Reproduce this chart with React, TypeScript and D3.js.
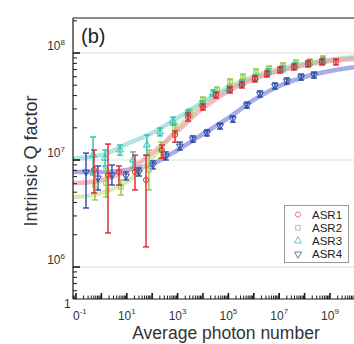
import React, { useEffect, useRef } from 'react';
import * as d3 from 'd3';

const W = 354;
const H = 344;

// Average photon number / intrinsic Q (Q values in units of 1e6)
const asr1N = [0.51, 1.82, 4.93, 21, 57, 243, 791, 2570, 1.0e4, 3.25e4, 1.16e5, 3.4e5, 1.11e6, 3.3e6, 1.07e7, 3.8e7, 1.36e8, 4.8e8, 1.72e9];
const asr1Q = [8.07, 7.24, 7.73, 7.73, 6.51, 12.4, 17.1, 25.2, 31.3, 40.5, 45.1, 50.2, 57.2, 63.6, 69.3, 74.0, 78.9, 82.4, 82.4];
const asr1Lo = [4.92, 2.08, 5.84, 5.25, 1.54, 10.4, 14.7, 23.1, 29.3, 37.9, 42.3, 47.1, 53.6, 59.7, 65.0, 69.3, 74.0, 77.3, 77.3];
const asr1Hi = [12.4, 14.1, 8.79, 11.1, 11.1, 13.8, 18.7, 27.5, 33.4, 43.2, 48.1, 53.6, 60.9, 67.9, 74.0, 78.9, 84.2, 87.9, 87.9];

const asr2N = [0.56, 1.52, 5.9, 75, 222, 791, 3080, 1.0e4, 3.56e4, 1.16e5, 3.76e5, 1.22e6, 3.96e6, 1.41e7, 4.58e7, 1.63e8, 5.3e8];
const asr2Q = [5.84, 6.09, 5.59, 8.07, 12.4, 19.9, 27.5, 36.4, 45.1, 53.6, 59.7, 66.4, 70.9, 75.6, 80.7, 82.4, 87.9];
const asr2Lo = [4.23, 4.51, 4.71, 5.25, 10.4, 17.9, 25.2, 34.1, 42.3, 50.2, 55.9, 62.3, 66.4, 70.9, 75.6, 77.3, 82.4];
const asr2Hi = [8.07, 8.42, 6.51, 12.4, 14.7, 21.7, 30.0, 38.8, 48.1, 57.2, 63.6, 70.9, 75.6, 80.7, 86.0, 87.9, 93.8];

const asr3N = [0.47, 1.39, 5.4, 17.5, 62, 203, 659, 2570, 9100, 2.47e4, 1.05e5, 3.4e5, 1.11e6, 3.6e6, 1.29e7, 4.2e7, 1.49e8, 5.3e8];
const asr3Q = [11.1, 10.4, 12.4, 10.0, 13.8, 18.3, 23.1, 27.5, 33.4, 42.3, 46.1, 52.5, 58.4, 66.4, 70.9, 75.6, 80.7, 84.2];
const asr3Lo = [7.24, 8.79, 11.1, 8.42, 11.1, 16.8, 21.2, 25.8, 31.3, 39.6, 43.2, 49.2, 54.7, 62.3, 66.4, 70.9, 75.6, 78.9];
const asr3Hi = [16.4, 12.4, 13.8, 11.9, 17.1, 19.9, 25.2, 29.3, 35.6, 45.1, 49.2, 55.9, 62.3, 70.9, 75.6, 80.7, 86.0, 89.8];

const asr4N = [0.248, 0.73, 2.6, 9.3, 30, 107, 347, 1230, 4000, 1.43e4, 4.7e4, 1.5e5, 5.4e5, 1.75e6, 6.8e6, 2.0e7, 7.3e7, 2.35e8];
const asr4Q = [7.73, 6.79, 7.24, 7.09, 7.73, 8.98, 10.9, 13.5, 15.7, 17.9, 20.8, 24.2, 32.6, 41.4, 49.2, 54.7, 59.7, 62.3];
const asr4Lo = [3.56, 5.25, 5.84, 6.51, 7.09, 8.25, 10.0, 12.4, 14.7, 16.8, 19.5, 22.6, 30.6, 38.8, 46.1, 51.3, 55.9, 58.4];
const asr4Hi = [11.6, 8.79, 8.98, 7.73, 8.42, 9.8, 11.9, 14.7, 16.8, 19.1, 22.1, 25.8, 34.8, 44.2, 52.5, 58.4, 63.6, 66.4];

// fit curves
const fitN = [0.075, 0.1, 1, 10, 100, 1e3, 1e4, 1e5, 1e6, 1e7, 1e8, 1e9, 1e10];
const fit1Q = [6.09, 6.09, 6.51, 7.89, 11.6, 18.7, 30.6, 44.2, 57.2, 67.9, 77.3, 84.2, 87.9];
const fit2Q = [4.51, 4.51, 4.92, 6.23, 10.4, 19.9, 34.1, 48.1, 60.9, 70.9, 78.9, 86.0, 91.8];
const fit3Q = [10.4, 10.4, 11.1, 14.1, 17.9, 24.7, 34.8, 46.1, 58.4, 69.3, 78.9, 86.0, 89.8];
const fit4Q = [7.73, 7.73, 7.73, 8.07, 9.18, 12.4, 17.5, 24.7, 36.4, 49.2, 59.7, 67.9, 74.0];

const yLabels = [1e6, 1e7, 1e8];
const xLabels = [1e1, 1e3, 1e5, 1e7, 1e9];

const series = [
  { name: 'ASR4', n: asr4N, q: asr4Q, lo: asr4Lo, hi: asr4Hi, fit: fit4Q, color: '#2748a8', fitColor: '#8a92dc', legendColor: '#6a78a8', symbol: 'down' },
  { name: 'ASR2', n: asr2N, q: asr2Q, lo: asr2Lo, hi: asr2Hi, fit: fit2Q, color: '#8ccc48', fitColor: '#cfe3a0', legendColor: '#b4c4a4', symbol: 'square' },
  { name: 'ASR3', n: asr3N, q: asr3Q, lo: asr3Lo, hi: asr3Hi, fit: fit3Q, color: '#2cc0ac', fitColor: '#98dcd4', legendColor: '#6cc4b4', symbol: 'up' },
  { name: 'ASR1', n: asr1N, q: asr1Q, lo: asr1Lo, hi: asr1Hi, fit: fit1Q, color: '#e4202c', fitColor: '#f4a4a8', legendColor: '#e07888', symbol: 'circle' },
];
const legendOrder = ['ASR1', 'ASR2', 'ASR3', 'ASR4'];

const font = 'Liberation Sans, Arial, sans-serif';

const symbolPath = (kind, size) => {
  if (kind === 'circle') return d3.symbol(d3.symbolCircle, size)();
  if (kind === 'square') return d3.symbol(d3.symbolSquare, size)();
  return d3.symbol(d3.symbolTriangle, size)();
};

const App = () => {
  const svgRef = useRef(null);

  useEffect(() => {
    const svg = d3.select(svgRef.current);
    svg.selectAll('*').remove();

    const left = 73, top = 18, right = W, bottom = 299;

    const x = d3.scaleLog().domain([1e-1, 1e9]).range([76, 330]);
    const y = d3.scaleLog().domain([1e6, 1e8]).range([267, 53]);

    svg.append('defs').append('clipPath').attr('id', 'plotclip')
      .append('rect').attr('x', left).attr('y', top).attr('width', right - left).attr('height', bottom - top);

    // horizontal grid at decades
    svg.append('g').selectAll('line').data(yLabels).enter().append('line')
      .attr('x1', left).attr('x2', right)
      .attr('y1', d => y(d)).attr('y2', d => y(d))
      .attr('stroke', '#dcdcdc').attr('stroke-width', 1);

    const plot = svg.append('g').attr('clip-path', 'url(#plotclip)');

    // fit curves
    const line = d3.line()
      .x(d => x(d[0]))
      .y(d => y(d[1] * 1e6))
      .curve(d3.curveMonotoneX);
    series.forEach(s => {
      plot.append('path')
        .attr('d', line(fitN.map((n, i) => [n, s.fit[i]])))
        .attr('fill', 'none')
        .attr('stroke', s.fitColor)
        .attr('stroke-width', 4.5)
        .attr('stroke-opacity', 0.75);
    });

    // error bars + markers
    series.forEach(s => {
      const g = plot.append('g');
      const pts = s.n.map((n, i) => ({ n, q: s.q[i], lo: s.lo[i], hi: s.hi[i] }));
      const bars = g.selectAll('g.bar').data(pts).enter().append('g').attr('class', 'bar')
        .attr('stroke', s.color).attr('stroke-width', 1.4).attr('fill', 'none');
      bars.append('line')
        .attr('x1', d => x(d.n)).attr('x2', d => x(d.n))
        .attr('y1', d => y(d.lo * 1e6)).attr('y2', d => y(d.hi * 1e6));
      bars.append('line')
        .attr('x1', d => x(d.n) - 3).attr('x2', d => x(d.n) + 3)
        .attr('y1', d => y(d.lo * 1e6)).attr('y2', d => y(d.lo * 1e6));
      bars.append('line')
        .attr('x1', d => x(d.n) - 3).attr('x2', d => x(d.n) + 3)
        .attr('y1', d => y(d.hi * 1e6)).attr('y2', d => y(d.hi * 1e6));
      bars.append('path')
        .attr('d', symbolPath(s.symbol, 20))
        .attr('transform', d => `translate(${x(d.n)},${y(d.q * 1e6)})${s.symbol === 'down' ? ' rotate(180)' : ''}`)
        .attr('stroke-width', 1);
    });

    // axes lines
    const axisColor = '#1a1a1a';
    svg.append('line').attr('x1', left).attr('x2', right).attr('y1', top).attr('y2', top)
      .attr('stroke', axisColor).attr('stroke-width', 1.2);
    svg.append('line').attr('x1', left).attr('x2', left).attr('y1', top).attr('y2', bottom)
      .attr('stroke', axisColor).attr('stroke-width', 1.2);
    svg.append('line').attr('x1', left).attr('x2', right).attr('y1', bottom).attr('y2', bottom)
      .attr('stroke', axisColor).attr('stroke-width', 1.2);

    const isMajor = v => Math.abs(Math.log10(v) - Math.round(Math.log10(v))) < 1e-6;

    // y ticks (inward)
    const yTicks = y.copy().domain([y.invert(bottom), y.invert(top)]).ticks(30)
      .filter(v => y(v) >= top && y(v) <= bottom);
    svg.append('g').selectAll('line').data(yTicks).enter().append('line')
      .attr('x1', left).attr('x2', d => left + (isMajor(d) ? 7 : 4))
      .attr('y1', d => y(d)).attr('y2', d => y(d))
      .attr('stroke', axisColor).attr('stroke-width', d => isMajor(d) ? 1.6 : 1);

    // x ticks (inward)
    const xTicks = x.copy().domain([x.invert(left), x.invert(right)]).ticks(40)
      .filter(v => x(v) >= left && x(v) <= right);
    svg.append('g').selectAll('line').data(xTicks).enter().append('line')
      .attr('x1', d => x(d)).attr('x2', d => x(d))
      .attr('y1', bottom).attr('y2', d => bottom - (isMajor(d) ? 6 : 3.5))
      .attr('stroke', axisColor).attr('stroke-width', d => isMajor(d) ? 1.6 : 1);

    // y tick labels
    yLabels.forEach(v => {
      const t = svg.append('text')
        .attr('x', 65).attr('y', y(v) - 3)
        .attr('text-anchor', 'end')
        .attr('font-family', font).attr('font-size', 12).attr('fill', '#333');
      t.append('tspan').text('10');
      t.append('tspan').attr('dy', -5).attr('font-size', 8).text(String(Math.round(Math.log10(v))));
    });

    // x tick labels
    xLabels.forEach(v => {
      const t = svg.append('text')
        .attr('x', x(v)).attr('y', 320)
        .attr('text-anchor', 'middle')
        .attr('font-family', font).attr('font-size', 12).attr('fill', '#333');
      t.append('tspan').text('10');
      t.append('tspan').attr('dy', -6).attr('font-size', 8).text(String(Math.round(Math.log10(v))));
    });
    // first label is cut by the panel edge: only "0⁻¹" shows, plus a stray "1"
    const first = svg.append('text')
      .attr('x', 73).attr('y', 320)
      .attr('font-family', font).attr('font-size', 12).attr('fill', '#333');
    first.append('tspan').text('0');
    first.append('tspan').attr('dy', -6).attr('font-size', 8).text('-1');
    svg.append('text').attr('x', 64).attr('y', 308)
      .attr('font-family', font).attr('font-size', 12).attr('fill', '#333').text('1');

    // axis titles
    svg.append('text')
      .attr('transform', `translate(37,161) rotate(-90)`)
      .attr('text-anchor', 'middle')
      .attr('font-family', font).attr('font-size', 18).attr('fill', '#333')
      .text('Intrinsic Q factor');
    svg.append('text')
      .attr('x', 226).attr('y', 339)
      .attr('text-anchor', 'middle')
      .attr('font-family', font).attr('font-size', 17.5).attr('fill', '#333')
      .text('Average photon number');

    // panel label
    svg.append('text')
      .attr('x', 81).attr('y', 43)
      .attr('font-family', font).attr('font-size', 20).attr('fill', '#222')
      .text('(b)');

    // legend
    const lg = svg.append('g');
    lg.append('rect').attr('x', 284.5).attr('y', 205.5).attr('width', 64).attr('height', 57)
      .attr('fill', '#fff').attr('stroke', '#9a9a9a').attr('stroke-width', 1);
    legendOrder.forEach((name, i) => {
      const s = series.find(d => d.name === name);
      const cy = 214.5 + i * 13.2;
      lg.append('path')
        .attr('d', symbolPath(s.symbol, 22))
        .attr('transform', `translate(298,${cy})${s.symbol === 'down' ? ' rotate(180)' : ''}`)
        .attr('fill', 'none').attr('stroke', s.legendColor).attr('stroke-width', 1);
      lg.append('text')
        .attr('x', 312).attr('y', cy + 4.2)
        .attr('font-family', font).attr('font-size', 11.5).attr('fill', '#222')
        .text(name);
    });
  }, []);

  return (
    <div style={{ position: 'absolute', left: 0, top: 0, width: W, height: H, background: '#fff' }}>
      <svg ref={svgRef} width={W} height={H} style={{ display: 'block' }}></svg>
    </div>
  );
};

export default App;
